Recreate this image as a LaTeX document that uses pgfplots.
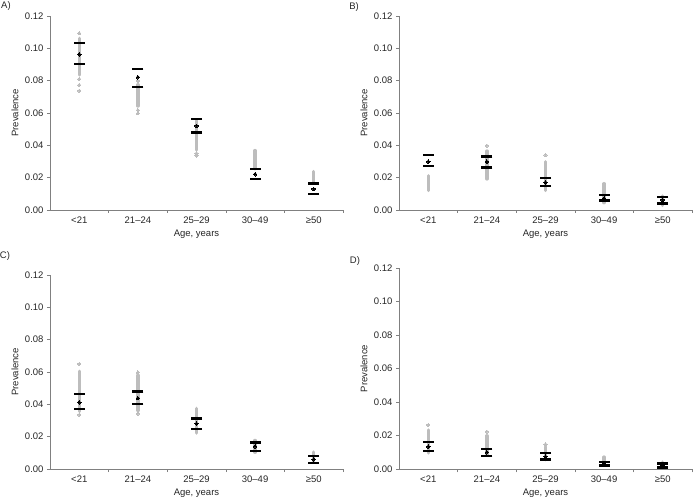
\documentclass[border=0pt]{standalone}
\usepackage{fontspec}
\setmainfont{Liberation Sans}
\usepackage{pgfplots}
\pgfplotsset{compat=1.18}
\definecolor{axisgray}{HTML}{808080}
\definecolor{txt}{HTML}{262626}
\definecolor{dotgray}{HTML}{BDBDBD}
\newcommand{\fs}{\fontsize{9.5}{11.4}\selectfont}
\pgfplotsset{
  panel/.style={
    scale only axis, width=293pt, height=194pt,
    xmin=-0.5, xmax=4.5, ymin=0, ymax=0.12,
    clip=false,
    axis x line*=bottom, axis y line*=left,
    axis line style={draw=axisgray, line width=0.6pt},
    xtick={0,1,2,3,4},
    xticklabels={<21,21–24,25–29,30–49,≥50},
    minor xtick={0.5,1.5,2.5,3.5,4.5},
    major x tick style={draw=none},
    minor x tick style={draw=axisgray, line width=0.6pt},
    minor tick length=3pt,
    ytick={0,0.02,0.04,0.06,0.08,0.10,0.12},
    y tick style={draw=axisgray, line width=0.6pt},
    major tick length=3pt,
    tick align=outside,
    scaled y ticks=false,
    yticklabel style={/pgf/number format/.cd, fixed, fixed zerofill, precision=2},
    /pgf/number format/assume math mode=true,
    tick label style={font=\fs, text=txt},
    label style={font=\fs, text=txt},
    xlabel={Age, years},
    ylabel={Prevalence},
    ylabel style={at={([xshift=-35pt]axis description cs:0,0.5)}, anchor=center},
  },
  dash/.style={only marks, mark=-, mark size=5.5pt, color=black, mark options={line width=2.3pt}},
  strip/.style={color=dotgray, line width=3.3pt, line cap=round, mark=none},
  gdot/.style={only marks, mark=*, mark size=1.65pt, color=dotgray, mark options={line width=0pt}},
  bdot/.style={only marks, mark=*, mark size=1.75pt, color=black, mark options={line width=0pt}},
}
\begin{document}
\begin{tikzpicture}
\useasboundingbox (0,0) rectangle (693pt,498pt);
% ---------------- A
\begin{axis}[panel, at={(50pt,288pt)}, anchor=south west]
\addplot[dash] coordinates {(0,0.1031)(0,0.0901)(1,0.0870)(1,0.0761)(2,0.0563)(2,0.0480)(3,0.0252)(3,0.0190)(4,0.0163)(4,0.0101)};
\addplot[strip] coordinates {(0,0.0835)(0,0.1062)};
\addplot[strip] coordinates {(1,0.0643)(1,0.0775)};
\addplot[strip] coordinates {(2,0.0371)(2,0.0552)};
\addplot[strip] coordinates {(3,0.0255)(3,0.0368)};
\addplot[strip] coordinates {(4,0.0165)(4,0.0238)};
\addplot[gdot] coordinates {(0,0.1093)(0,0.0810)(0,0.0773)(0,0.0738)(1,0.0798)(1,0.0618)(1,0.0598)(2,0.0351)(2,0.0338)};
\addplot[bdot] coordinates {(0,0.0963)(1,0.0821)(2,0.0520)(3,0.0221)(4,0.0130)};
\end{axis}
% ---------------- B
\begin{axis}[panel, at={(399pt,288pt)}, anchor=south west]
\addplot[dash] coordinates {(0,0.0340)(0,0.0271)(1,0.0330)(1,0.0262)(2,0.0200)(2,0.0148)(3,0.0093)(3,0.0058)(4,0.0080)(4,0.0041)};
\addplot[strip] coordinates {(0,0.0120)(0,0.0212)};
\addplot[strip] coordinates {(1,0.0192)(1,0.0365)};
\addplot[strip] coordinates {(2,0.0120)(2,0.0299)};
\addplot[strip] coordinates {(3,0.0045)(3,0.0163)};
\addplot[strip] coordinates {(4,0.0028)(4,0.0087)};
\addplot[gdot] coordinates {(1,0.0398)(2,0.0340)};
\addplot[bdot] coordinates {(0,0.0299)(1,0.0299)(2,0.0171)(3,0.0072)(4,0.0062)};
\end{axis}
% ---------------- C
\begin{axis}[panel, at={(50pt,29pt)}, anchor=south west]
\addplot[dash] coordinates {(0,0.0463)(0,0.0371)(1,0.0480)(1,0.0401)(2,0.0313)(2,0.0249)(3,0.0163)(3,0.0111)(4,0.0080)(4,0.0039)};
\addplot[strip] coordinates {(0,0.0356)(0,0.0605)};
\addplot[strip] coordinates {(1,0.0362)(1,0.0580)};
\addplot[strip] coordinates {(2,0.0222)(2,0.0375)};
\addplot[strip] coordinates {(3,0.0103)(3,0.0177)};
\addplot[strip] coordinates {(4,0.0047)(4,0.0105)};
\addplot[gdot] coordinates {(0,0.0650)(0,0.0336)(1,0.0598)(1,0.0343)};
\addplot[bdot] coordinates {(0,0.0412)(1,0.0438)(2,0.0280)(3,0.0140)(4,0.0060)};
\end{axis}
% ---------------- D
\begin{axis}[panel, height=201.5pt, at={(399pt,28.7pt)}, anchor=south west]
\addplot[dash] coordinates {(0,0.0161)(0,0.0111)(1,0.0121)(1,0.0081)(2,0.0095)(2,0.0059)(3,0.0045)(3,0.0022)(4,0.0034)(4,0.0010)};
\addplot[strip] coordinates {(0,0.0097)(0,0.0234)};
\addplot[strip] coordinates {(1,0.0087)(1,0.0200)};
\addplot[strip] coordinates {(2,0.0057)(2,0.0135)};
\addplot[strip] coordinates {(3,0.0028)(3,0.0073)};
\addplot[strip] coordinates {(4,0.0018)(4,0.0043)};
\addplot[gdot] coordinates {(0,0.0264)(1,0.0224)(2,0.0149)};
\addplot[bdot] coordinates {(0,0.0135)(1,0.0101)(2,0.0075)(3,0.0036)(4,0.0024)};
\end{axis}
% panel letters
\node[font=\fs, text=txt] at (6pt,491.7pt) {A)};
\node[font=\fs, text=txt] at (354pt,491.3pt) {B)};
\node[font=\fs, text=txt] at (5pt,241.7pt) {C)};
\node[font=\fs, text=txt] at (355pt,236.7pt) {D)};
\end{tikzpicture}
\end{document}
